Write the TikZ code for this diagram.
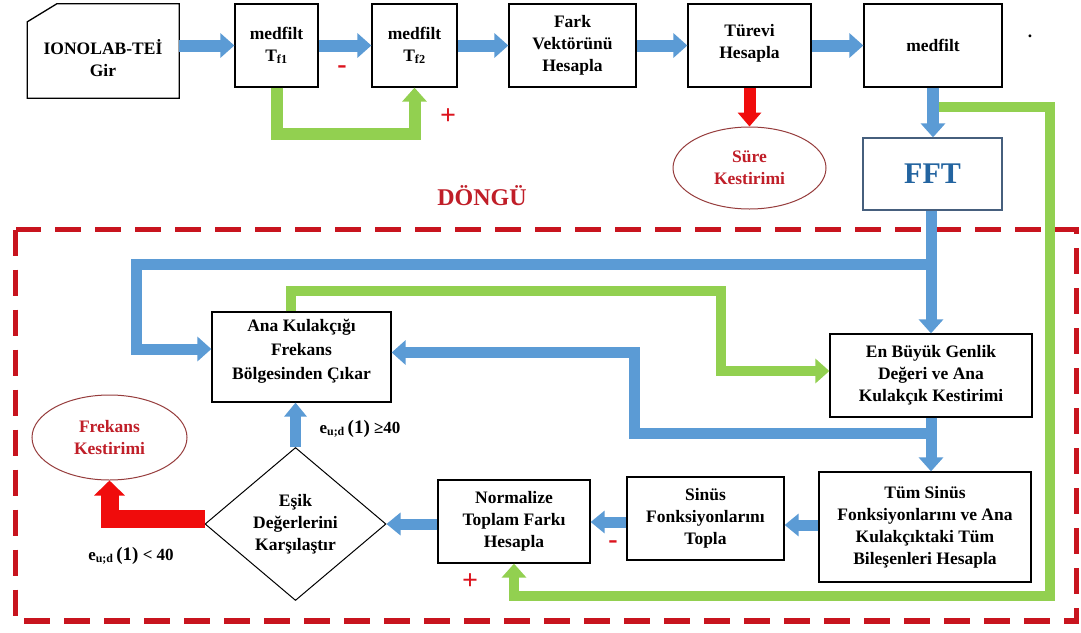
\documentclass[tikz,border=0pt]{standalone}
\usepackage{fontspec}
\setmainfont{Liberation Serif}
\usetikzlibrary{arrows.meta,shapes.geometric,calc}
\definecolor{ablue}{RGB}{91,155,213}
\definecolor{agreen}{RGB}{146,208,80}
\definecolor{ared}{RGB}{240,12,12}
\definecolor{dred}{RGB}{200,20,30}
\definecolor{tred}{RGB}{192,30,40}
\definecolor{sred}{RGB}{220,20,30}
\definecolor{fftblue}{RGB}{35,100,160}
\definecolor{fftedge}{RGB}{70,95,125}
\definecolor{elledge}{RGB}{150,60,60}
\begin{document}
\begin{tikzpicture}[x=1pt,y=-1pt,line join=miter,
  txt/.style={font=\fontsize{17.5}{22}\selectfont\bfseries, align=center},
  box/.style={txt, draw=black, line width=1.3pt, inner sep=0pt},
  oval/.style={ellipse, draw=elledge, line width=1pt, inner sep=0pt, txt, text=tred},
  bluearrow/.style={draw=ablue, line width=12pt, -{Triangle[width=24pt,length=14pt]}},
  blueline/.style={draw=ablue, line width=11pt},
  greenarrow/.style={draw=agreen, line width=10pt, -{Triangle[width=24pt,length=14pt]}},
  greenline/.style={draw=agreen, line width=10pt},
  redarrow/.style={draw=ared, line width=12pt, -{Triangle[width=23pt,length=14pt]}},
  sign/.style={font=\fontsize{28}{28}\selectfont\bfseries, text=sred},
  cond/.style={font=\fontsize{17}{20}\selectfont\bfseries}]
\useasboundingbox (0,0) rectangle (1081,632);
\fill[white] (0,0) rectangle (1081,632);

% loop frame
\draw[dred, line width=5.5pt, dash pattern=on 26pt off 14pt] (15.5,229.5) rectangle (1076.5,621);
\node[font=\fontsize{24}{24}\selectfont\bfseries, text=tred] (loop) at (482,196) {DÖNGÜ};

% top row
\node[minimum width=151.5pt, minimum height=94pt, inner sep=0pt] (ion) at (103.25,51) {};
\draw[line width=1.3pt] (ion.south west) -- ($(ion.north west)+(0,18)$) -- ($(ion.north west)+(29.5,0)$) -- (ion.north east) -- (ion.south east) -- cycle;
\node[txt] (ionlbl) at (103,58) {IONOLAB-TEİ\\Gir};
\node[box, minimum width=83pt, minimum height=83pt] (tf1) at (276.5,45.5) {medfilt\\T\textsubscript{f1}};
\node[box, minimum width=85pt, minimum height=83pt] (tf2) at (414.5,45.5) {medfilt\\T\textsubscript{f2}};
\node[box, minimum width=127pt, minimum height=83pt] (fark) at (572.5,45.5) {Fark\\Vektörünü\\Hesapla};
\node[box, minimum width=123pt, minimum height=83pt] (turev) at (749.5,45.5) {Türevi\\Hesapla\\[-14pt]};
\node[box, minimum width=138pt, minimum height=83pt] (med) at (933,45.5) {medfilt};
\node[txt] (dot) at (1030,36) {.};
\node[oval, minimum width=153pt, minimum height=82pt] (sure) at (749.5,168) {Süre\\Kestirimi};
\node[box, draw=fftedge, minimum width=139pt, minimum height=72pt, font=\fontsize{30}{30}\selectfont\bfseries, text=fftblue] (fft) at (932.5,174) {FFT};

% loop boxes
\node[box, minimum width=179pt, minimum height=90pt, font=\fontsize{17.5}{24}\selectfont\bfseries] (ana) at (301.5,357) {Ana Kulakçığı\\Frekans\\Bölgesinden Çıkar\\[-8pt]};
\node[box, minimum width=202pt, minimum height=83pt] (enb) at (931,375.5) {En Büyük Genlik\\Değeri ve Ana\\Kulakçık Kestirimi};
\node[box, minimum width=212pt, minimum height=110pt] (tum) at (925,527) {Tüm Sinüs\\Fonksiyonlarını ve Ana\\Kulakçıktaki Tüm\\Bileşenleri Hesapla};
\node[box, minimum width=157pt, minimum height=83pt] (sin) at (705.5,518.5) {Sinüs\\Fonksiyonlarını\\Topla};
\node[box, minimum width=152pt, minimum height=83pt] (norm) at (514,521.5) {Normalize\\Toplam Farkı\\Hesapla};
\node[diamond, draw=black, line width=1pt, inner sep=0pt, aspect=1.2, minimum width=181pt, minimum height=153pt, txt] (cmp) at (295.5,524) {Eşik\\Değerlerini\\Karşılaştır};
\node[oval, minimum width=155pt, minimum height=85pt] (frek) at (109.5,437.5) {Frekans\\Kestirimi};

% signs and conditions
\node[sign] (m1) at (342,70) {-};
\node[sign] (p1) at (448,117) {+};
\node[sign] (m2) at (613,545) {-};
\node[sign] (p2) at (470,582) {+};
\node[cond] (ge) at (360,429) {e\textsubscript{u;d}\,{\fontsize{19}{20}\selectfont(1)} ≥40};
\node[cond] (lt) at (131,556) {e\textsubscript{u;d}\,{\fontsize{19}{20}\selectfont(1)} < 40};

% green connectors (under blue)
\coordinate (gstart) at (932,107);
\coordinate (gright) at (1050,107);
\coordinate (gbottom) at (1050,596);
\draw[greenarrow] (gstart) -- (gright) -- (gbottom) -| (norm.south);
\draw[greenarrow, line width=12pt] (tf1.south) -- ++(0,46) -| (tf2.south);
\coordinate (ga) at (291,291);
\coordinate (gb) at (721,291);
\coordinate (gc) at (721,371);
\draw[greenarrow] (ana.north -| ga) -- (ga) -- (gb) -- (gc) -- (enb.west |- gc);

% blue connectors
\draw[bluearrow] (ion.east |- tf1) -- (tf1.west);
\draw[bluearrow] (tf1.east) -- (tf2.west);
\draw[bluearrow] (tf2.east) -- (fark.west);
\draw[bluearrow] (fark.east) -- (turev.west);
\draw[bluearrow] (turev.east) -- (med.west);
\draw[bluearrow] (med.south) -- (med.south |- fft.north);
\coordinate (b1) at (931,264);
\coordinate (b2) at (136,264);
\coordinate (b3) at (136,349);
\draw[blueline, -{Triangle[width=24pt,length=14pt]}] (fft.south -| b1) -- (b1 |- enb.north);
\draw[blueline, -{Triangle[width=24pt,length=14pt]}] (b1) -- (b2) -- (b3) -- (ana.west |- b3);
\draw[blueline, -{Triangle[width=24pt,length=14pt]}] (enb.south) -- (enb.south |- tum.north);
\coordinate (b4) at (931,433);
\coordinate (b5) at (634,433);
\coordinate (b6) at (634,352.5);
\draw[blueline, -{Triangle[width=24pt,length=14pt]}] (b4) -- (b5) -- (b6) -- (ana.east |- b6);
\draw[blueline, -{Triangle[width=22pt,length=14pt]}] (cmp.north) -- (cmp.north |- ana.south);
\draw[blueline, -{Triangle[width=22pt,length=14pt]}] (tum.west |- 0,525) -- (sin.east |- 0,525);
\draw[blueline, -{Triangle[width=22pt,length=14pt]}] (sin.west |- 0,522) -- (norm.east |- 0,522);
\draw[blueline, -{Triangle[width=22pt,length=14pt]}] (norm.west |- cmp.east) -- (cmp.east);

% red connectors
\draw[redarrow] (turev.south -| sure.north) -- (sure.north);
\coordinate (r1) at (205,519);
\draw[draw=ared, line width=18pt, -{Triangle[width=30pt,length=15pt]}] (r1) -| (frek.south);
\end{tikzpicture}
\end{document}
